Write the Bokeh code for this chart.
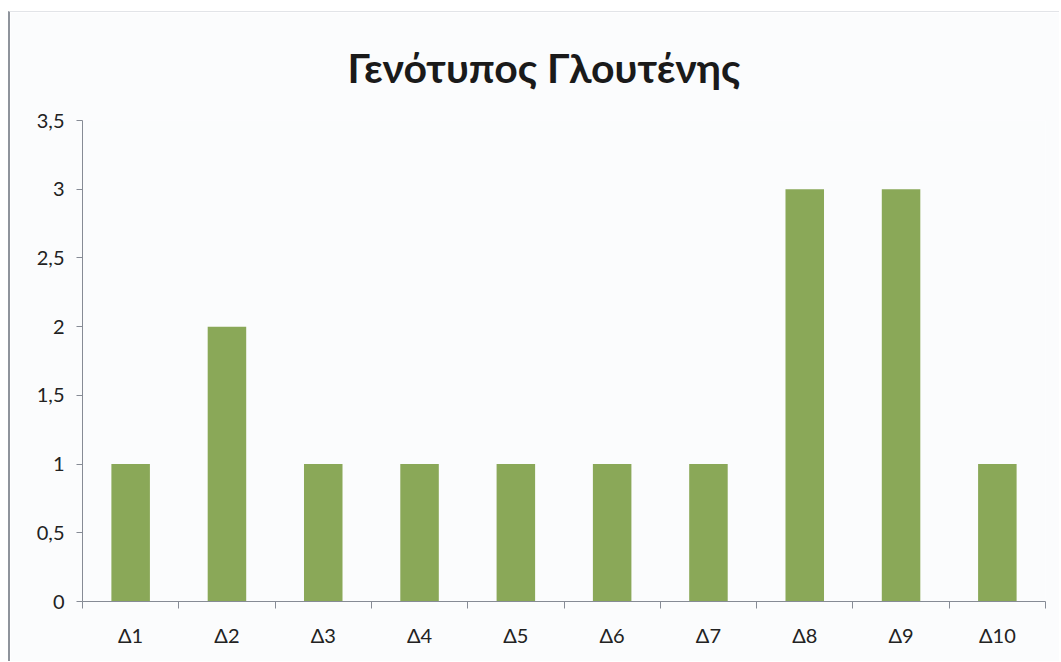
from bokeh.plotting import figure
from bokeh.models import FixedTicker, CustomJSTickFormatter, Range1d
from bokeh.embed import file_html
from bokeh.resources import INLINE

# Gluten genotype per sample
categories = ["Δ1", "Δ2", "Δ3", "Δ4", "Δ5", "Δ6", "Δ7", "Δ8", "Δ9", "Δ10"]
values = [1, 2, 1, 1, 1, 1, 1, 3, 3, 1]
y_ticks = [0, 0.5, 1, 1.5, 2, 2.5, 3, 3.5]
title_text = "Γενότυπος Γλουτένης"

FONT = "Lato"
AXIS_COLOR = "#868b95"
BAR_COLOR = "#8aa858"

n = len(categories)
centers = [i + 0.5 for i in range(n)]

p = figure(
    width=1051, height=650,
    output_backend="svg", toolbar_location=None,
    x_range=Range1d(0, n), y_range=Range1d(0, 3.5),
    min_border_left=72, min_border_right=16,
    min_border_top=108, min_border_bottom=61,
)
p.styles = {"margin-left": "8px", "margin-top": "11px",
            "border-left": "2px solid #8f949c",
            "border-top": "1px solid #e2e4e8"}
p.background_fill_color = "#fbfcfd"
p.border_fill_color = "#fbfcfd"
p.outline_line_color = None
p.xgrid.visible = False
p.ygrid.visible = False

p.title.text = title_text
p.title.align = "left"
p.title.offset = 265
p.title.standoff = 57
p.title.text_font = FONT
p.title.text_font_style = "bold"
p.title.text_font_size = "41px"
p.title.text_color = "#1a1a1a"

p.vbar(x=centers, top=values, width=0.4, fill_color=BAR_COLOR, line_color=None)

# y axis: comma decimal separator
p.yaxis.ticker = FixedTicker(ticks=y_ticks, minor_ticks=[])
p.yaxis.formatter = CustomJSTickFormatter(code="return tick.toString().replace('.', ',');")
p.yaxis.axis_line_color = AXIS_COLOR
p.yaxis.major_tick_line_color = AXIS_COLOR
p.yaxis.major_tick_in = 0
p.yaxis.major_tick_out = 6
p.yaxis.major_label_standoff = 12
p.yaxis.major_label_text_font = FONT
p.yaxis.major_label_text_font_size = "20px"
p.yaxis.major_label_text_color = "#222222"

# x axis: labels at category centres, tick marks at category boundaries
p.xaxis.ticker = FixedTicker(ticks=centers, minor_ticks=list(range(n + 1)))
p.xaxis.formatter = CustomJSTickFormatter(
    args=dict(labels=categories),
    code="return labels[Math.floor(tick)];")
p.xaxis.axis_line_color = AXIS_COLOR
p.xaxis.major_tick_line_color = None
p.xaxis.minor_tick_line_color = AXIS_COLOR
p.xaxis.minor_tick_in = 0
p.xaxis.minor_tick_out = 7
p.xaxis.major_label_standoff = 14
p.xaxis.major_label_text_font = FONT
p.xaxis.major_label_text_font_size = "20px"
p.xaxis.major_label_text_color = "#222222"

open("out.html", "w").write(file_html(p, INLINE))
